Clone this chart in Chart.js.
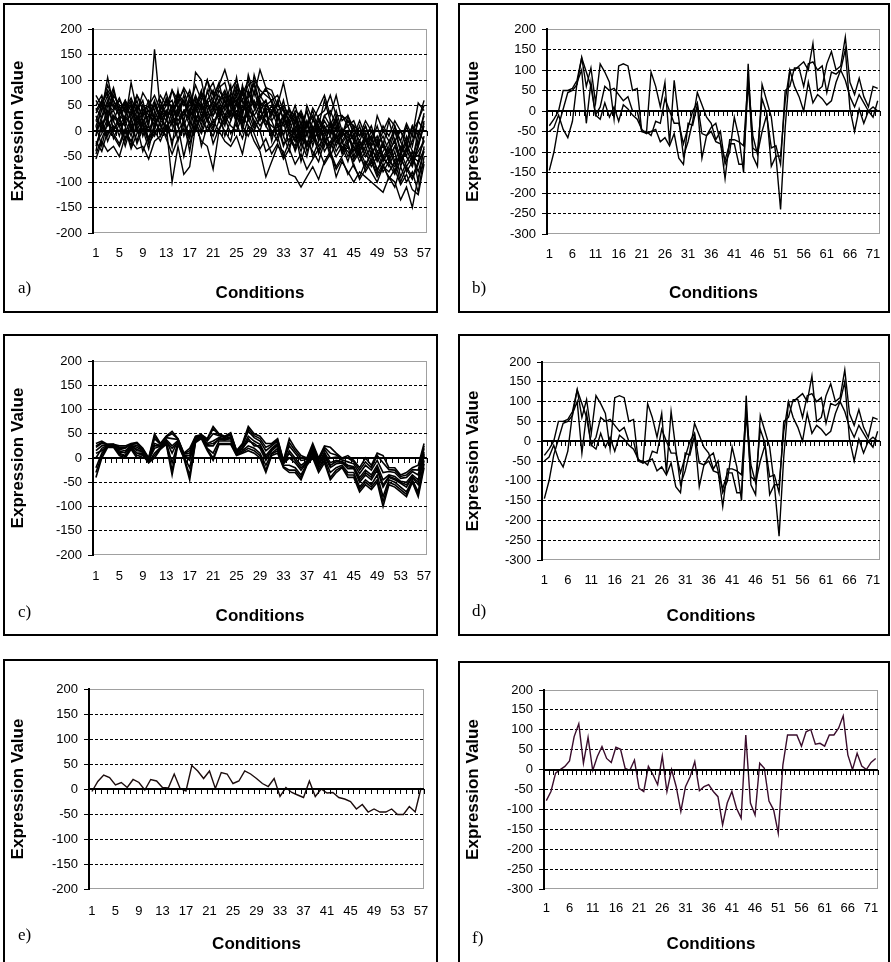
<!DOCTYPE html>
<html lang="en">
<head>
<meta charset="UTF-8">
<title>Expression profiles</title>
<script src="https://cdn.jsdelivr.net/npm/chart.js"></script>
<style>
  body { margin: 0; width: 891px; height: 962px; overflow: hidden; background: #fff; position: relative; }
  .panel { position: absolute; border: 2px solid #000; box-sizing: border-box; }
  canvas { position: absolute; }
  .tag { position: absolute; font: 17px "Liberation Serif", "Times New Roman", serif; color: #000; }
</style>
</head>
<body>
<script>
// categories
const cond57 = Array.from({ length: 57 }, (_, i) => String(i + 1));
const cond72 = Array.from({ length: 72 }, (_, i) => String(i + 1));

// a) all profiles (57 conditions)
const a1 = [60,40,105,50,30,20,95,40,60,10, 160,40,30,80,45,60,20,115,100,40, 60,85,95,50,105,30,110,70,120,85, 80,50,95,40,30,-20,50,20,45,70, 30,70,20,30,5,-20,10,-30,30,0, 25,10,-20,15,-10,55,40];
const a2 = [-55,-20,-40,-30,-50,-10,-20,-35,-30,-55, -20,-10,10,-100,-30,-85,-70,10,-20,-30, -75,0,-20,-30,-10,-45,10,-20,-40,-90, -60,-30,-40,-85,-90,-110,-90,-70,-95,-60, -40,-90,-60,-80,-100,-80,-90,-100,-110,-120, -90,-100,-135,-110,-150,-90,-60];
const a3 = [20,50,80,60,40,55,30,70,50,30, 60,20,40,30,70,50,80,40,60,100, 70,90,120,80,100,60,90,100,80,70, 60,70,40,20,50,10,40,0,30,40, 70,30,30,20,10,0,-20,-10,-40,-30, -50,-30,-60,-40,-20,20,60];
const a4 = [-30,10,40,20,-10,30,10,-20,20,0, 30,-10,20,50,20,40,10,60,30,50, 30,50,20,40,70,20,40,60,30,20, 0,-20,20,-30,-10,-40,0,-50,-20,10, -10,-40,-20,-50,-30,-60,-40,-70,-50,-80, -60,-70,-50,-80,-60,-40,-20];
const a5 = [10,-30,20,70,50,10,40,20,50,40, 0,50,30,-30,50,30,60,20,50,20, 50,20,70,30,40,10,60,30,50,10, 40,10,30,0,-20,20,-30,10,-10,-30, 20,-20,-10,0,-40,-20,-50,-30,-60,-40, -20,-60,-30,-50,-70,-30,10];
const a6 = [40,60,10,30,20,50,0,30,10,50, 20,0,40,10,80,10,40,70,40,60, 80,30,50,90,20,50,30,80,40,60, 20,40,-10,30,10,-30,20,-10,20,0, -30,10,-40,-20,10,-30,-10,-50,-20,-60, -40,-20,-70,-30,-50,-80,-40];
const a7 = [-10,30,60,0,30,-20,20,50,-10,20, 50,30,0,40,-20,20,-40,30,0,40, 10,40,-10,20,60,0,50,20,0,40, -20,30,-10,-40,20,-20,-50,0,-30,-10, -50,-20,-30,-60,-20,-50,-70,-40,-80,-50, -70,-40,-90,-60,-40,-100,-30];
const a8 = [30,0,50,40,60,40,60,10,40,-20, 10,40,60,20,30,70,30,50,80,20, 40,60,30,60,30,80,20,40,60,30, 50,20,60,10,40,30,10,40,0,30, 10,40,0,10,-20,10,-30,0,-30,-10, -40,0,-20,-50,0,20,50];
const a9 = [0,20,-20,10,0,20,-10,30,0,10, -10,20,10,0,40,-10,20,0,30,0, 20,0,30,10,0,30,10,0,30,10, -10,10,-30,0,-40,-10,-30,-20,0,-40, -20,-50,-30,-40,-60,-40,-80,-60,-90,-70, -80,-60,-100,-70,-90,-60,-40];
const a10 = [50,70,30,80,40,60,20,50,30,60, 40,70,50,60,10,40,50,90,60,100, 50,70,40,60,90,70,100,50,70,80, 70,40,50,30,20,40,10,30,-10,20, 0,30,-10,20,0,-10,10,-20,10,-30, 20,-20,0,-30,10,-10,30];
const a11 = [-20,-40,0,-10,-30,0,-20,10,-40,-10, 0,-20,10,-20,0,20,-10,30,-30,10, -10,20,0,-20,30,10,-10,20,0,-40, -30,-10,-50,-20,0,-60,-20,-40,-60,-20, -40,-70,-50,-30,-70,-90,-60,-80,-100,-70, -90,-110,-70,-100,-80,-120,-50];
const a12 = [70,50,90,60,30,60,40,70,40,50, 70,40,20,50,30,60,30,40,70,50, 30,60,80,50,60,40,70,90,50,60, 30,60,20,40,0,30,-10,20,10,60, 20,0,30,10,20,-10,20,0,-20,10, -10,20,0,-20,10,-30,20];
const a13 = [20,10,30,40,10,30,50,0,30,40, 10,30,50,80,60,80,40,20,50,30, 60,40,60,20,50,60,30,110,70,50, 60,30,10,20,-10,0,40,-10,10,-10, 10,-30,0,-20,-10,-40,-20,-30,-10,-50, -30,10,-40,-20,-60,0,-20];
const a14 = [-40,20,-10,30,10,-30,10,40,10,-20, 40,10,-10,20,10,-50,0,50,10,60, 20,30,10,70,10,40,60,10,40,20, 10,0,30,-10,-30,10,-40,-10,-40,0, -30,-10,-40,-10,-30,-50,-30,-60,-40,-70, -50,-80,-40,-70,-50,-60,-10];
const a15 = [10,40,70,20,50,20,30,60,20,30, 30,60,30,40,60,20,70,30,20,80, 40,80,60,30,80,30,80,50,20,50, 40,50,40,0,30,-10,10,30,-20,30, 40,10,-10,30,-10,20,-10,10,-30,0, -20,0,-40,10,-30,20,0];
const a16 = [-10,60,20,0,20,10,-30,20,0,30, 20,0,40,30,10,40,20,0,40,20, 0,50,30,40,20,90,40,30,10,30, 20,-10,20,10,-20,0,20,-30,10,-20, -10,20,-20,0,-50,-20,-40,-10,-50,-20, -60,-30,-50,-10,-40,-50,-20];
const a17 = [35,55,75,45,65,35,55,25,45,15, 55,25,65,45,75,55,35,65,45,75, 95,55,75,45,85,55,65,95,55,45, 35,55,25,45,15,35,5,45,25,5, 15,-15,5,-25,-5,-35,-15,-45,-25,-55, -35,-65,-45,-25,-55,-15,35];
const a18 = [-25,-5,25,-15,15,-5,25,-25,5,-35, 15,35,5,25,45,15,-15,35,55,25, 5,45,15,35,55,15,35,5,25,45, -5,15,-25,-15,-35,-5,-25,5,-45,-15, -35,-5,-45,-25,-55,-35,-65,-45,-75,-55, -65,-85,-55,-75,-95,-65,-35];
const a19 = [45,25,55,85,35,45,65,35,75,55, 25,45,75,35,55,85,65,45,75,55, 65,95,45,75,55,85,75,45,65,85, 55,25,45,15,35,-5,15,-15,25,5, -5,25,-25,-5,-15,-45,-5,-35,-55,-25, -45,-15,-55,-35,-65,-25,15];
const a20 = [-45,-15,15,-5,-25,5,-35,-5,15,-25, -5,15,-15,-45,-15,5,-25,15,-5,25, -25,5,25,-5,15,-15,25,-5,-35,-15, -45,-25,-55,-35,-65,-45,-75,-55,-35,-65, -45,-75,-55,-85,-65,-95,-75,-55,-85,-65, -95,-75,-105,-85,-115,-125,-65];

// b) three profiles (72 conditions)
const bHigh = [-36,-20,0,50,50,55,75,130,60,105, 20,115,95,70,-20,110,115,110,50,55, -50,-55,95,60,10,70,-80,75,-20,-110, -75,-25,45,15,-15,-30,-70,-50,-130,-100, -15,-65,-150,115,-110,-135,65,25,-15,-110, -240,-40,100,100,110,120,100,165,50,60, 115,145,100,110,180,70,40,80,35,10, 60,55];
const bMid = [-50,-40,-10,-45,-65,-25,70,100,-30,70, -10,10,60,50,55,40,25,35,0,0, -50,-50,-60,-25,-30,30,0,-30,-30,-80, -40,0,20,-55,-60,-40,-30,-75,-165,-70, -70,-75,-85,80,-60,-105,-50,-10,-90,-85, -130,50,60,105,105,60,115,120,100,110, 45,95,90,100,150,5,-50,5,-30,0, -15,25];
const bLow = [-145,-100,-35,5,45,50,65,130,95,60, -10,-20,20,-15,10,-25,15,5,-10,-20, -45,-55,-50,-45,-75,-65,-85,-55,-115,-130, -30,-35,15,-115,-60,-50,-75,-80,-120,-80, -80,-130,-130,70,-90,-100,30,-5,-135,-110, -110,25,100,60,35,0,70,20,40,30, 15,25,70,100,75,35,10,40,20,0, 10,0];

// c) cluster of profiles (57 conditions)
const c1 = [30,35,28,28,25,25,30,32,20,0, 50,30,45,55,40,10,20,45,48,40, 65,50,45,52,15,30,65,50,45,30, 30,40,-5,40,20,5,0,30,0,25, 22,10,0,5,-5,-20,0,-15,10,5, -20,-20,-35,-30,-20,-15,30];
const c2 = [-40,0,22,22,5,0,18,0,5,-10, 0,18,28,-35,28,0,-45,32,40,15, -5,28,28,28,5,10,15,10,0,-30, 5,10,-20,-30,-30,-45,-15,0,-30,-10, -45,-30,-20,-40,-40,-70,-55,-65,-50,-100, -55,-60,-70,-80,-50,-80,-20];
const c3 = [-20,10,25,26,10,5,22,10,10,-8, 10,22,32,-10,32,3,-20,36,44,20, 10,35,35,35,8,15,25,20,10,-15, 10,20,-15,-15,-20,-35,-12,8,-20,0, -30,-20,-15,-30,-30,-60,-45,-55,-35,-80, -45,-50,-60,-70,-45,-70,-5];
const c4 = [0,20,26,25,15,10,24,18,12,-5, 20,24,36,10,35,5,-5,38,45,25, 25,40,38,40,10,20,35,30,20,-5, 15,25,-12,0,-10,-25,-10,12,-15,5, -20,-12,-10,-22,-22,-50,-35,-45,-25,-60, -40,-45,-52,-60,-40,-55,5];
const c5 = [15,25,27,27,18,15,26,22,15,-3, 30,26,38,25,36,6,5,40,46,30, 35,42,40,44,12,22,45,35,28,5, 20,30,-10,15,0,-15,-6,18,-10,12, -10,-5,-7,-15,-18,-40,-25,-35,-15,-45, -35,-38,-48,-50,-35,-45,12];
const c6 = [22,30,28,28,20,20,28,26,17,-2, 40,28,42,40,38,8,10,42,47,35, 50,46,42,48,14,26,55,42,35,15, 25,35,-8,25,10,-5,-3,22,-5,18, 0,2,-4,-8,-12,-32,-15,-25,-5,-30, -28,-30,-42,-40,-28,-35,20];
const c7 = [-30,5,24,24,8,3,20,5,8,-9, 5,20,30,-25,30,1,-35,34,42,18, 0,30,30,30,6,12,20,15,5,-25, 8,15,-18,-25,-25,-40,-14,4,-25,-5, -40,-25,-18,-35,-35,-65,-50,-60,-45,-90, -50,-55,-65,-75,-48,-75,-12];
const c8 = [10,15,25,27,12,12,25,15,14,-4, 25,25,34,20,33,4,0,39,45,28, 30,38,37,42,11,18,40,25,25,0, 18,28,-11,10,-5,-20,-8,15,-12,8, -15,-8,-8,-18,-20,-45,-30,-40,-20,-55, -38,-42,-50,-55,-38,-50,8];
const c9 = [25,32,27,28,22,22,29,30,18,-1, 45,29,44,50,39,9,15,44,47,38, 60,48,44,50,15,28,60,46,40,22, 28,38,-6,32,15,0,-1,26,-2,22, 10,6,-2,0,-8,-25,-8,-20,5,-10, -24,-25,-38,-35,-24,-25,25];

// e) centroid of c
const eMean = [-5,15,28,23,8,13,3,19,13,-2, 19,16,3,2,30,1,-4,47,36,21, 36,1,33,30,11,16,36,30,21,11, 5,21,-15,3,-7,-12,-17,16,-15,0, -8,-7,-17,-20,-25,-40,-31,-46,-40,-46, -46,-40,-51,-51,-35,-46,2];

// f) centroid of d
const fMean = [-78,-55,-9,0,8,22,83,115,16,81, -2,33,58,28,18,56,51,3,-2,24, -47,-55,8,-13,-38,34,-55,0,-43,-105, -43,-18,20,-53,-43,-38,-55,-68,-139,-84, -55,-97,-122,87,-84,-114,16,3,-79,-101, -160,12,87,87,87,59,95,101,64,66, 59,87,87,104,135,37,0,41,9,0, 18,28];

const aSeries = [a1, a2, a3, a4, a5, a6, a7, a8, a9, a10, a11, a12, a13, a14, a15, a16, a17, a18, a19, a20];
const bSeries = [bHigh, bMid, bLow];
const cSeries = [c1, c2, c3, c4, c5, c6, c7, c8, c9];
const dSeries = [bHigh, bMid, bLow];

const FONT = 'Arial, "Liberation Sans", sans-serif';

// box: left, top, width, height; plot: left, top, right, bottom (page px)
const panels = [
  { tag: 'a)', box: [3, 3, 435, 310], plot: [93, 29, 427, 233], min: -200, labels: cond57, every: 4, series: aSeries, color: '#000', width: 1.4, tickY: 254, titleY: 294, tagPos: [18, 278] },
  { tag: 'b)', box: [458, 3, 432, 310], plot: [547, 29, 880, 234], min: -300, labels: cond72, every: 5, series: bSeries, color: '#000', width: 1.4, tickY: 255, titleY: 294, tagPos: [472, 278] },
  { tag: 'c)', box: [3, 334, 435, 302], plot: [93, 361, 427, 555], min: -200, labels: cond57, every: 4, series: cSeries, color: '#000', width: 1.6, tickY: 577, titleY: 617, tagPos: [18, 602] },
  { tag: 'd)', box: [458, 334, 432, 302], plot: [542, 362, 880, 560], min: -300, labels: cond72, every: 5, series: dSeries, color: '#000', width: 1.4, tickY: 581, titleY: 617, tagPos: [472, 601] },
  { tag: 'e)', box: [3, 659, 435, 320], plot: [89, 689, 424, 889], min: -200, labels: cond57, every: 4, series: [eMean], color: '#1c0c0c', width: 1.4, tickY: 912, titleY: 945, tagPos: [18, 925] },
  { tag: 'f)', box: [458, 661, 432, 320], plot: [544, 690, 878, 889], min: -300, labels: cond72, every: 5, series: [fMean], color: '#3a0d2c', width: 1.4, tickY: 909, titleY: 945, tagPos: [472, 928] }
];

// gray plot frame, black zero axis with category tick marks
const excelAxes = {
  id: 'excelAxes',
  beforeDraw(chart) {
    const { ctx, chartArea: ar } = chart;
    ctx.save();
    ctx.strokeStyle = '#a0a0a0';
    ctx.lineWidth = 1;
    ctx.strokeRect(ar.left + 0.5, ar.top + 0.5, ar.width - 1, ar.height - 1);
    ctx.restore();
  },
  afterDatasetsDraw(chart) {
    const { ctx, chartArea: ar, scales: { x, y } } = chart;
    const y0 = Math.round(y.getPixelForValue(0));
    ctx.save();
    ctx.strokeStyle = '#000';
    ctx.lineWidth = 2;
    ctx.beginPath();
    ctx.moveTo(ar.left, y0);
    ctx.lineTo(ar.right, y0);
    ctx.stroke();
    const n = x.ticks.length;
    const step = x.getPixelForValue(1) - x.getPixelForValue(0);
    const start = x.getPixelForValue(0) - step / 2;
    ctx.lineWidth = 1;
    ctx.beginPath();
    for (let i = 0; i <= n; i++) {
      const xx = Math.round(start + i * step) + 0.5;
      ctx.moveTo(xx, y0);
      ctx.lineTo(xx, y0 + 5);
    }
    ctx.stroke();
    ctx.restore();
  }
};

panels.forEach(p => {
  const [bl, bt, bw, bh] = p.box;
  const [pl, pt, pr, pb] = p.plot;

  const frame = document.createElement('div');
  frame.className = 'panel';
  Object.assign(frame.style, { left: bl + 'px', top: bt + 'px', width: bw + 'px', height: bh + 'px' });
  document.body.appendChild(frame);

  const canvas = document.createElement('canvas');
  canvas.width = bw;
  canvas.height = bh;
  Object.assign(canvas.style, { left: bl + 'px', top: bt + 'px', width: bw + 'px', height: bh + 'px' });
  document.body.appendChild(canvas);

  const tag = document.createElement('div');
  tag.className = 'tag';
  tag.textContent = p.tag;
  Object.assign(tag.style, { left: p.tagPos[0] + 'px', top: p.tagPos[1] + 'px' });
  document.body.appendChild(tag);

  const edge = (v, lo) => v === 0 || v === 200 || v === lo;

  new Chart(canvas.getContext('2d'), {
    type: 'line',
    data: {
      labels: p.labels,
      datasets: p.series.map(s => ({
        data: s,
        borderColor: p.color,
        borderWidth: p.width,
        pointRadius: 0,
        fill: false,
        tension: 0
      }))
    },
    options: {
      responsive: false,
      animation: false,
      events: [],
      layout: { padding: { top: pt - bt, right: bl + bw - pr, left: 0, bottom: 0 } },
      plugins: { legend: { display: false }, tooltip: { enabled: false } },
      scales: {
        x: {
          offset: true,
          grid: { display: false, drawTicks: false },
          border: { display: false },
          ticks: {
            autoSkip: false,
            maxRotation: 0,
            padding: p.tickY - pb - 8,
            color: '#000',
            font: { family: FONT, size: 13 },
            callback: (v, i) => (i % p.every === 0 ? p.labels[i] : '')
          },
          title: {
            display: true,
            text: 'Conditions',
            color: '#000',
            font: { family: FONT, size: 17, weight: 'bold' },
            padding: { top: 0, bottom: bt + bh - p.titleY - 10 }
          },
          afterFit: s => {
            s.height = bt + bh - pb;
            s.paddingLeft = 0;
            s.paddingRight = 0;
          }
        },
        y: {
          min: p.min,
          max: 200,
          ticks: {
            stepSize: 50,
            padding: 6,
            color: '#000',
            font: { family: FONT, size: 13 }
          },
          grid: {
            color: c => (edge(c.tick.value, p.min) ? 'rgba(0,0,0,0)' : '#000'),
            lineWidth: 1,
            tickLength: 5,
            tickColor: '#000',
            tickBorderDash: []
          },
          border: { display: true, color: '#000', width: 2, dash: [3, 2] },
          title: {
            display: true,
            text: 'Expression Value',
            color: '#000',
            font: { family: FONT, size: 17, weight: 'bold' },
            padding: { top: 5, bottom: 0 }
          },
          afterFit: s => { s.width = pl - bl; }
        }
      }
    },
    plugins: [excelAxes]
  });
});
</script>
</body>
</html>
